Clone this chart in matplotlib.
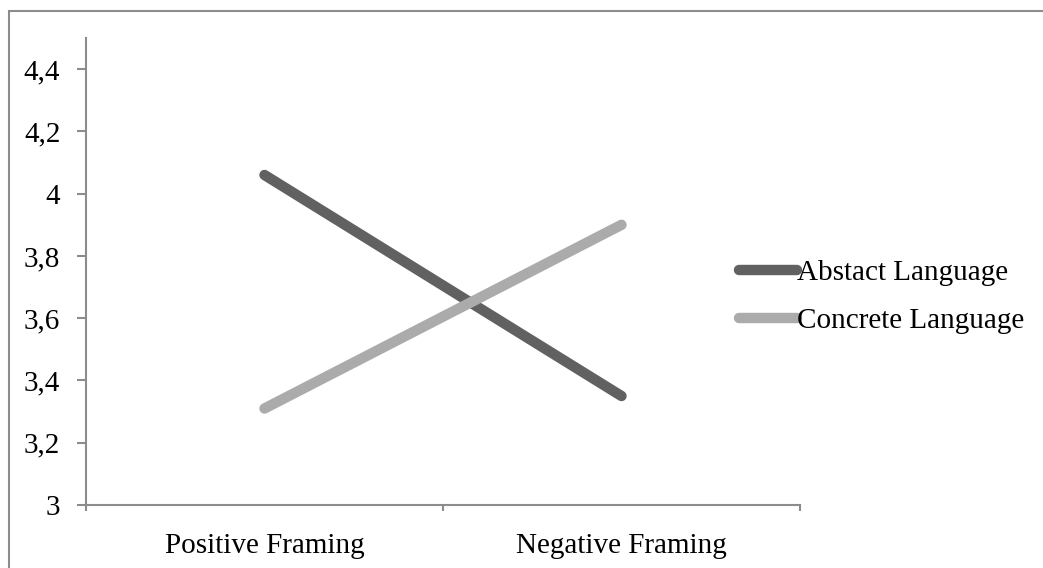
import matplotlib.pyplot as plt
from matplotlib.patches import Rectangle

categories = ["Positive Framing", "Negative Framing"]
abstract = [4.06, 3.35]
concrete = [3.31, 3.90]
yticks = [3, 3.2, 3.4, 3.6, 3.8, 4, 4.2, 4.4]
ytick_labels = ["3", "3,2", "3,4", "3,6", "3,8", "4", "4,2", "4,4"]

W, H = 1043, 568
FS = 21
plt.rcParams["font.family"] = ["Liberation Serif", "DejaVu Serif"]
fig = plt.figure(figsize=(W / 100, H / 100), dpi=100)

# outer chart border (runs off the right/bottom of the image)
fig.patches.append(Rectangle((9 / W, -0.1), 1.2, (H - 11) / H + 0.1, transform=fig.transFigure,
                             fill=False, edgecolor="#8c8c8c", lw=1.5))

ax = fig.add_axes([86 / W, 63 / H, (800 - 86) / W, (505 - 38) / H])
x = [0.5, 1.5]
ax.plot(x, abstract, color="#616161", lw=7.5, solid_capstyle="round", label="Abstact Language")
ax.plot(x, concrete, color="#ababab", lw=7.5, solid_capstyle="round", label="Concrete Language")

ax.set_xlim(0, 2)
ax.set_ylim(3, 4.5)
ax.set_yticks(yticks)
ax.set_yticklabels(ytick_labels, fontsize=FS)
ax.set_xticks([0, 1, 2])
ax.set_xticklabels([])
ax.set_xticks(x, minor=True)
ax.set_xticklabels(categories, minor=True, fontsize=FS)
ax.tick_params(axis="x", which="minor", length=0, pad=20)
ax.tick_params(axis="x", which="major", direction="out", length=4.5, color="#8c8c8c", width=1.5)
ax.tick_params(axis="y", direction="out", length=6.5, color="#8c8c8c", width=1.5, pad=12)
for s in ["top", "right"]:
    ax.spines[s].set_visible(False)
for s in ["left", "bottom"]:
    ax.spines[s].set_color("#8c8c8c")
    ax.spines[s].set_linewidth(1.5)

fig.legend(loc="center left", bbox_to_anchor=(739 / W, 1 - 297 / H), frameon=False,
           fontsize=FS, handlelength=2.0, handletextpad=0.0, labelspacing=0.75,
           borderpad=0, borderaxespad=0)

fig.savefig("out.png", dpi=100)
